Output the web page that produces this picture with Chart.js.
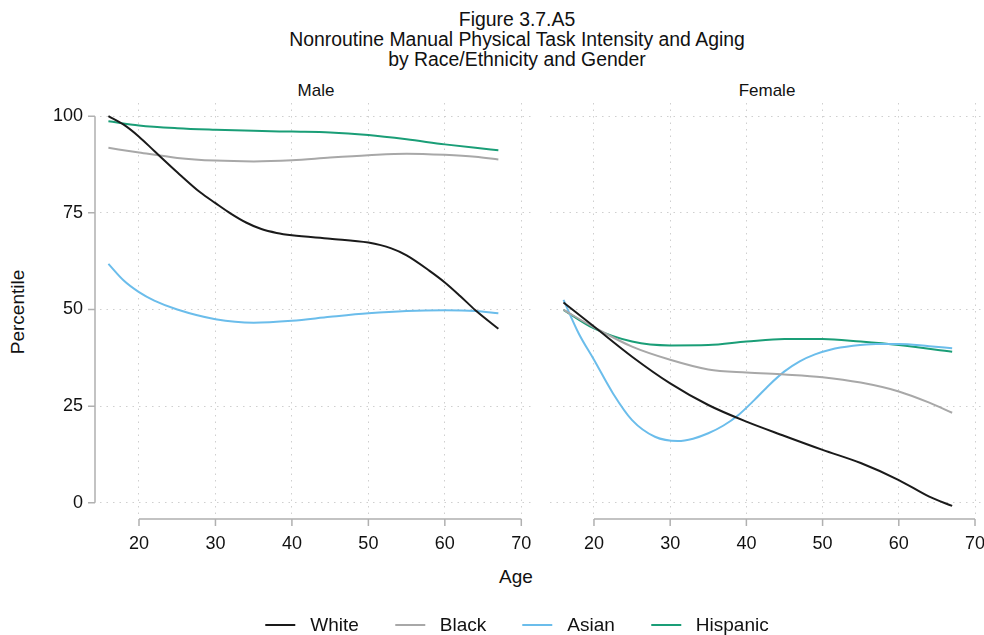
<!DOCTYPE html>
<html>
<head>
<meta charset="utf-8">
<script src="https://cdn.jsdelivr.net/npm/chart.js@4/dist/chart.umd.min.js"></script>
<style>
  html, body { margin:0; padding:0; background:#fff; }
  #wrap { position:relative; width:984px; height:635px; overflow:hidden; font-family:"Liberation Sans", Arial, sans-serif; color:#111; }
  canvas { position:absolute; left:0; top:0; }
  .t { position:absolute; white-space:nowrap; width:max-content; }
  #title { position:absolute; left:517px; top:9px; width:max-content; transform:translateX(-50%); text-align:center; font-size:19.4px; line-height:20px; white-space:nowrap; }
  #legend { position:absolute; left:517px; top:614px; width:max-content; transform:translateX(-50%); display:flex; align-items:center; font-size:19px; white-space:nowrap; }
  .li { display:flex; align-items:center; margin:0 18px; }
  .sw { width:30px; height:2px; margin-right:15px; }
</style>
</head>
<body>
<div id="wrap">
  <div id="title">Figure 3.7.A5<br>Nonroutine Manual Physical Task Intensity and Aging<br>by Race/Ethnicity and Gender</div>
  <div class="t" id="maleLbl" style="left:316px;top:81px;transform:translateX(-50%);font-size:17px;">Male</div>
  <div class="t" id="femLbl" style="left:767px;top:81px;transform:translateX(-50%);font-size:17px;">Female</div>
  <div class="t" id="ylab" style="left:18px;top:312px;transform:translate(-50%,-50%) rotate(-90deg);font-size:19px;">Percentile</div>
  <div class="t" id="xlab" style="left:516px;top:566px;transform:translateX(-50%);font-size:19px;">Age</div>
  <canvas id="cMale" width="984" height="635"></canvas>
  <canvas id="cFemale" width="984" height="635"></canvas>
  <div id="legend"></div>
</div>
<script>
// ---------- data ----------
const seriesNames  = ["White", "Black", "Asian", "Hispanic"];
const seriesColors = ["#1a1a1a", "#a8a8a8", "#6bbdeb", "#1a9e77"];
const xTicks = [20, 30, 40, 50, 60, 70];
const yTicks = [0, 25, 50, 75, 100];

// Male
const maleWhiteAge = [16,18,20,22,25,28,30,32,34,36,38,40,45,50,53,55,58,60,62,64,67];
const maleWhite    = [100,97.8,94.7,91,85.5,80.3,77.5,74.8,72.5,70.8,69.8,69.2,68.3,67.3,65.8,64,60,57,53.5,49.8,45];
const maleBlackAge = [16,20,25,30,35,40,45,50,55,60,64,67];
const maleBlack    = [91.8,90.6,89.2,88.5,88.3,88.6,89.3,89.9,90.3,90.0,89.5,88.8];
const maleAsianAge = [16,18,20,22,25,30,35,40,45,50,55,60,64,67];
const maleAsian    = [61.8,57.5,54.5,52.3,50,47.5,46.6,47.1,48.1,49,49.6,49.8,49.6,49.0];
const maleHispAge  = [16,20,25,30,35,40,45,50,55,60,64,67];
const maleHisp     = [98.7,97.6,96.9,96.5,96.2,96.0,95.8,95.1,94.0,92.7,91.8,91.2];

// Female
const femWhiteAge = [16,20,25,30,35,40,45,50,55,60,64,67];
const femWhite    = [51.8,45.6,37.8,30.9,25.3,21.0,17.3,13.7,10.3,5.9,1.6,-0.8];
const femBlackAge = [16,20,25,30,35,40,45,50,55,60,64,67];
const femBlack    = [49.9,45.4,40.4,37.0,34.5,33.7,33.2,32.5,31.1,28.8,25.9,23.3];
const femAsianAge = [16,18,20,22.5,25,28,31,33,35,37,39,41,43,45,47,49,51,54,57,60,64,67];
const femAsian    = [52.5,43.8,37.0,28.3,21.4,17.1,16.0,16.6,18.0,20.0,22.8,26.5,30.5,34.0,36.6,38.4,39.6,40.6,41.1,41.1,40.5,40.0];
const femHispAge  = [16,20,25,30,35,40,45,50,55,60,67];
const femHisp     = [49.9,45.1,41.7,40.7,40.8,41.7,42.4,42.4,41.7,40.8,39.1];

// axis ranges per panel
const maleXRange = [14.9, 71.4];
const femXRange  = [14.23, 71.18];
const yRange     = [-3.4, 103.4];

// ---------- helpers ----------
const FONT = '"Liberation Sans", Arial, sans-serif';
const gridColor = "#cfcfcf";
const axisColor = "#b0b0b0";

function pts(ages, vals) { return ages.map((a, i) => ({ x: a, y: vals[i] })); }
function ds(i, ages, vals) {
  return { label: seriesNames[i], data: pts(ages, vals), borderColor: seriesColors[i],
           borderWidth: 2, pointRadius: 0, fill: false, cubicInterpolationMode: 'monotone' };
}

const axesPlugin = {
  id: 'stataAxes',
  afterDraw(chart, args, opts) {
    const ctx = chart.ctx, xs = chart.scales.x, ys = chart.scales.y, ca = chart.chartArea;
    ctx.save();
    ctx.strokeStyle = axisColor; ctx.lineWidth = 1.5;
    const yy = ca.bottom + 3;
    ctx.beginPath();
    ctx.moveTo(xs.getPixelForValue(xTicks[0]), yy);
    ctx.lineTo(xs.getPixelForValue(xTicks[xTicks.length - 1]), yy);
    xTicks.forEach(t => { const p = xs.getPixelForValue(t); ctx.moveTo(p, yy); ctx.lineTo(p, yy + 7); });
    if (opts.yAxis) {
      const xx = ca.left - 5;
      ctx.moveTo(xx, ys.getPixelForValue(yTicks[0]));
      ctx.lineTo(xx, ys.getPixelForValue(yTicks[yTicks.length - 1]));
      yTicks.forEach(t => { const p = ys.getPixelForValue(t); ctx.moveTo(xx, p); ctx.lineTo(xx - 7, p); });
    }
    ctx.stroke();
    ctx.restore();
  }
};

function makeChart(id, datasets, left, xr) {
  return new Chart(document.getElementById(id), {
    type: 'line',
    data: { datasets },
    options: {
      responsive: false, animation: false, devicePixelRatio: 1,
      layout: { padding: left ? { left: 0, top: 103, right: 452, bottom: 59 }
                              : { left: 550, top: 103, right: 0, bottom: 59 } },
      plugins: { legend: { display: false }, tooltip: { enabled: false }, title: { display: false },
                 stataAxes: { yAxis: left } },
      scales: {
        x: {
          type: 'linear', min: xr[0], max: xr[1],
          afterBuildTicks: s => { s.ticks = xTicks.map(v => ({ value: v })); },
          afterFit: s => { s.height = 60; s.paddingLeft = 0; s.paddingRight = 0; },
          grid: { color: gridColor, lineWidth: 1, drawTicks: false },
          border: { display: false, dash: [1.5, 5] },
          ticks: { autoSkip: false, maxRotation: 0, minRotation: 0, padding: 17, color: '#111',
                   font: { family: FONT, size: 18 } }
        },
        y: {
          type: 'linear', min: yRange[0], max: yRange[1],
          afterBuildTicks: s => { s.ticks = yTicks.map(v => ({ value: v })); },
          afterFit: s => { s.width = left ? 100 : 0; s.paddingTop = 0; s.paddingBottom = 0; },
          grid: { color: gridColor, lineWidth: 1, drawTicks: false },
          border: { display: false, dash: [1.5, 5] },
          ticks: { display: left, autoSkip: false, padding: 17, color: '#111',
                   font: { family: FONT, size: 18 } }
        }
      }
    },
    plugins: [axesPlugin]
  });
}

makeChart('cMale', [
  ds(0, maleWhiteAge, maleWhite), ds(1, maleBlackAge, maleBlack),
  ds(2, maleAsianAge, maleAsian), ds(3, maleHispAge, maleHisp)
], true, maleXRange);
makeChart('cFemale', [
  ds(0, femWhiteAge, femWhite), ds(1, femBlackAge, femBlack),
  ds(2, femAsianAge, femAsian), ds(3, femHispAge, femHisp)
], false, femXRange);

// legend
const lg = document.getElementById('legend');
seriesNames.forEach((n, i) => {
  const it = document.createElement('div'); it.className = 'li';
  const sw = document.createElement('div'); sw.className = 'sw'; sw.style.background = seriesColors[i];
  const tx = document.createElement('span'); tx.textContent = n;
  it.appendChild(sw); it.appendChild(tx); lg.appendChild(it);
});
</script>
</body>
</html>
